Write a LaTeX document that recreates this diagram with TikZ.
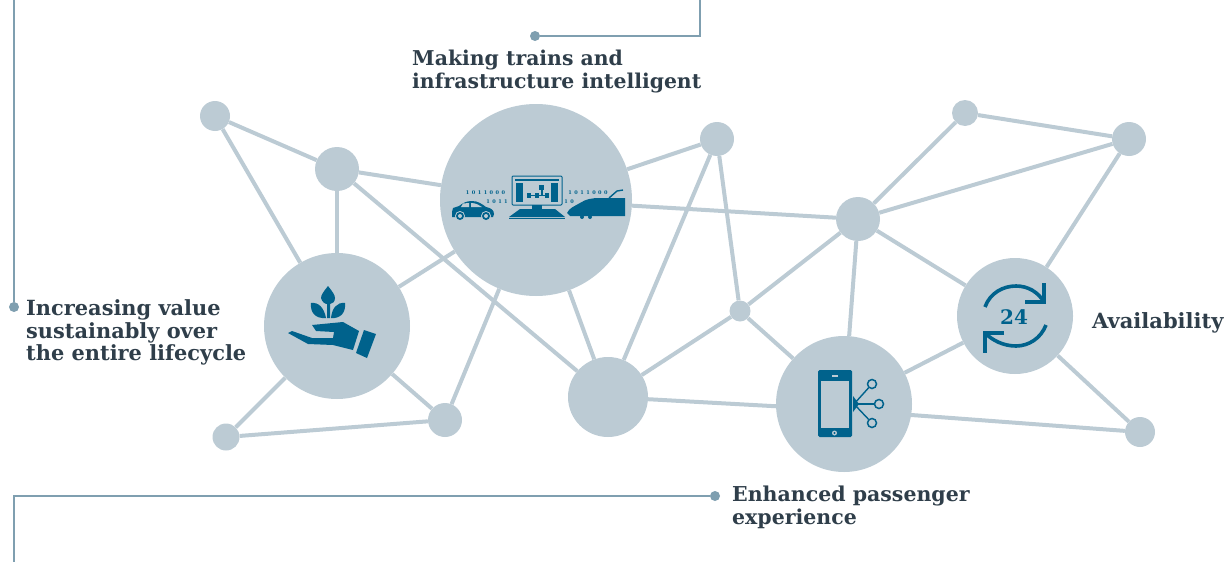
\documentclass[tikz,border=0pt]{standalone}
\usepackage{fontspec}
\setmainfont{DejaVu Serif}
\usepackage{tikz}
\usetikzlibrary{positioning}
\definecolor{hubgray}{HTML}{BCCBD4}
\definecolor{leadblue}{HTML}{7F9FB0}
\definecolor{icontblue}{HTML}{00628C}
\definecolor{labelink}{HTML}{2F3E4A}
\tikzset{
    hub/.style={circle,fill=hubgray,inner sep=0pt,minimum size=#1},
    dot/.style={circle,fill=leadblue,inner sep=0pt,minimum size=10pt},
    link/.style={draw=hubgray,line width=4pt},
    lead/.style={draw=leadblue,line width=1.1pt},
    caption/.style={text=labelink,font=\bfseries\fontsize{#1}{22.5}\selectfont,align=left,inner sep=0pt},
    caption/.default=20.5,
    bits/.style={text=icontblue,font=\bfseries\fontsize{5}{5}\selectfont,inner sep=0pt},
    satellite/.style={draw=icontblue,line width=1.5pt,circle,inner sep=0pt,minimum size=9pt},
}
\begin{document}
\begin{tikzpicture}[x=1pt,y=-1pt]
    \useasboundingbox (0,0) rectangle (1231,562);
    % hubs
    \node[hub=30pt] (leafa) at (215,116) {};
    \node[hub=44pt] (leafb) at (337,169) {};
    \node[hub=146pt] (hand) at (337,326) {};
    \node[hub=27pt] (leafc) at (226,437) {};
    \node[hub=34pt] (leafd) at (445,420) {};
    \node[hub=192pt] (trains) at (536,200) {};
    \node[hub=34pt] (leafe) at (717,139) {};
    \node[hub=80pt] (blank) at (608,397) {};
    \node[hub=21pt] (leaff) at (740,311) {};
    \node[hub=136pt] (phone) at (844,404) {};
    \node[hub=44pt] (leafg) at (858,219) {};
    \node[hub=26pt] (leafh) at (965,113) {};
    \node[hub=34pt] (leafi) at (1129,139) {};
    \node[hub=116pt] (clock) at (1015,316) {};
    \node[hub=30pt] (leafj) at (1140,432) {};
    \coordinate (phonelow) at (844,410);
    % links
    \foreach \a/\b in {leafa/leafb,leafa/hand,leafb/hand,leafb/trains,leafb/blank,
        hand/trains,hand/leafc,hand/leafd,leafc/leafd,leafd/trains,trains/leafe,
        trains/leafg,trains/blank,blank/leafe,blank/leaff,blank/phonelow,leafe/leaff,
        leaff/leafg,leaff/phone,leafg/phone,leafg/leafh,leafg/leafi,leafg/clock,
        leafh/leafi,leafi/clock,clock/phone,clock/leafj,phonelow/leafj}
        \draw[link] (\a) -- (\b);
    % leader lines
    \node[dot] (dotvalue) at (14,307) {};
    \node[dot] (dottrains) at (535,36) {};
    \node[dot] (dotpassenger) at (715,496) {};
    \coordinate (topvalue) at (14,0);
    \coordinate (toptrains) at (700,0);
    \coordinate (cornertrains) at (700,36);
    \coordinate (cornerpassenger) at (14,496);
    \coordinate (botpassenger) at (14,562);
    \draw[lead] (topvalue) -- (dotvalue);
    \draw[lead] (dottrains) -- (cornertrains) -- (toptrains);
    \draw[lead] (dotpassenger) -- (cornerpassenger) -- (botpassenger);
    % labels
    \node[caption=20.9,anchor=west] (lblvalue) at (26,332.5) {Increasing value\\sustainably over\\the entire lifecycle};
    \node[caption=20.4,anchor=west] (lbltrains) at (412,71.5) {Making trains and\\infrastructure intelligent};
    \node[caption,anchor=west] (lblpassenger) at (732,507.5) {Enhanced passenger\\experience};
    \node[caption=21,anchor=west] (lblavail) at (1092,322.5) {Availability};
    % hand icon
    \fill[icontblue] (288,333) -- (292,331) -- (312,338) -- (333,338) -- (334,332) -- (316,331) -- (312,325)
        -- (343,322) -- (359,331) -- (353,350) -- (333,345) -- (308,344) -- cycle;
    \fill[icontblue] (364,330) -- (376,334) -- (367,358) -- (356,353) -- cycle;
    \fill[icontblue] (328,286) .. controls (324,291) and (321,295) .. (321,298) .. controls (322,302) and (325,304) .. (327,304)
        -- (327,318) -- (330,318) -- (330,304) .. controls (332,304) and (335,302) .. (335,298) .. controls (335,295) and (332,291) .. (328,286) -- cycle;
    \fill[icontblue] (311,303) .. controls (319,302) and (324,308) .. (326,318) .. controls (315,319) and (310,312) .. (311,303) -- cycle;
    \fill[icontblue] (345,303) .. controls (337,302) and (332,308) .. (331,318) .. controls (341,319) and (346,312) .. (345,303) -- cycle;
    % monitor icon
    \draw[icontblue,line width=1pt,rounded corners=1pt] (512,176) rectangle (562,205);
    \fill[icontblue] (515,179) rectangle (559,181);
    \fill[icontblue] (516,183) rectangle (523,202);
    \fill[icontblue] (551,183) rectangle (558,202);
    \fill[icontblue] (539,185) rectangle (544,190);
    \fill[icontblue] (541,190) rectangle (542.5,195);
    \fill[icontblue] (527,194.5) rectangle (548,196);
    \fill[icontblue] (527,193) rectangle (531,198);
    \fill[icontblue] (535,193) rectangle (539,198);
    \fill[icontblue] (545,193) rectangle (549,198);
    \fill[icontblue] (532,205) rectangle (542,210);
    \fill[icontblue] (520,209) -- (555,209) -- (565,217) -- (509,217) -- cycle;
    \fill[icontblue] (509,217.6) rectangle (565,219);
    % car icon
    \fill[icontblue] (452,212) -- (453,208) -- (459,206) .. controls (463,203) and (466,201) .. (472,201)
        .. controls (478,201) and (482,204) .. (486,207) .. controls (491,208) and (494,210) .. (494,214)
        -- (493,217) -- (452,217) -- cycle;
    \fill[hubgray] (463,203.5) -- (469,203) -- (469,207) -- (461,207) -- cycle;
    \fill[hubgray] (471,203) .. controls (476,203) and (479,205) .. (482,207) -- (471,207) -- cycle;
    \foreach \cx in {460,486} {
        \fill[hubgray] (\cx,216) circle (5pt);
        \fill[icontblue] (\cx,216) circle (4pt);
        \fill[hubgray] (\cx,216) circle (2pt);
    }
    % train icon
    \fill[icontblue] (567,213) .. controls (569,208) and (575,206) .. (580,203) .. controls (586,199) and (592,198) .. (600,198)
        -- (625,198) -- (625,216) -- (570,216) -- cycle;
    \fill[icontblue] (582,217) circle (2pt);
    \fill[icontblue] (590,217) circle (2pt);
    \draw[icontblue,line width=1.4pt] (609,198) -- (617,191) -- (623,190);
    % binary digits
    \node[bits] (bitsa) at (485.5,193) {1\,\,\,0\,\,\,1\,\,\,1\,\,\,0\,\,\,0\,\,\,0};
    \node[bits] (bitsb) at (497,202) {1\,\,\,0\,\,\,1\,\,\,1};
    \node[bits] (bitsc) at (588,193) {1\,\,\,0\,\,\,1\,\,\,1\,\,\,0\,\,\,0\,\,\,0};
    \node[bits] (bitsd) at (569,202) {1\,\,\,0};
    % phone icon
    \fill[icontblue,rounded corners=1.5pt] (818,370) rectangle (852,437);
    \fill[hubgray] (821,381) rectangle (849,428);
    \fill[hubgray] (832,375) rectangle (838,376.5);
    \fill[hubgray] (834.5,433) circle (2.5pt);
    \fill[icontblue] (834.5,433) circle (1.2pt);
    \fill[icontblue] (853,396) -- (859,404) -- (853,412) -- cycle;
    \node[satellite] (sata) at (872,384) {};
    \node[satellite] (satb) at (879,404) {};
    \node[satellite] (satc) at (872,423) {};
    \coordinate (phub) at (854,404);
    \draw[icontblue,line width=1.4pt] (phub) -- (sata);
    \draw[icontblue,line width=1.4pt] (phub) -- (satb);
    \draw[icontblue,line width=1.4pt] (phub) -- (satc);
    % clock icon
    \begin{scope}[icontblue,line width=3.6pt]
        \draw (985,307) .. controls (990,293) and (1003,286) .. (1016,286) .. controls (1028,286) and (1038,292) .. (1044,302);
        \draw (1044,283) -- (1044,302) -- (1025,302);
        \draw (1046,325) .. controls (1041,338) and (1029,346) .. (1016,346) .. controls (1003,346) and (992,340) .. (985,333);
        \draw (1004,333) -- (985,333) -- (985,353);
    \end{scope}
    \node[text=icontblue,font=\bfseries\fontsize{20}{20}\selectfont,inner sep=0pt] (hours) at (1014,317) {24};
\end{tikzpicture}
\end{document}
